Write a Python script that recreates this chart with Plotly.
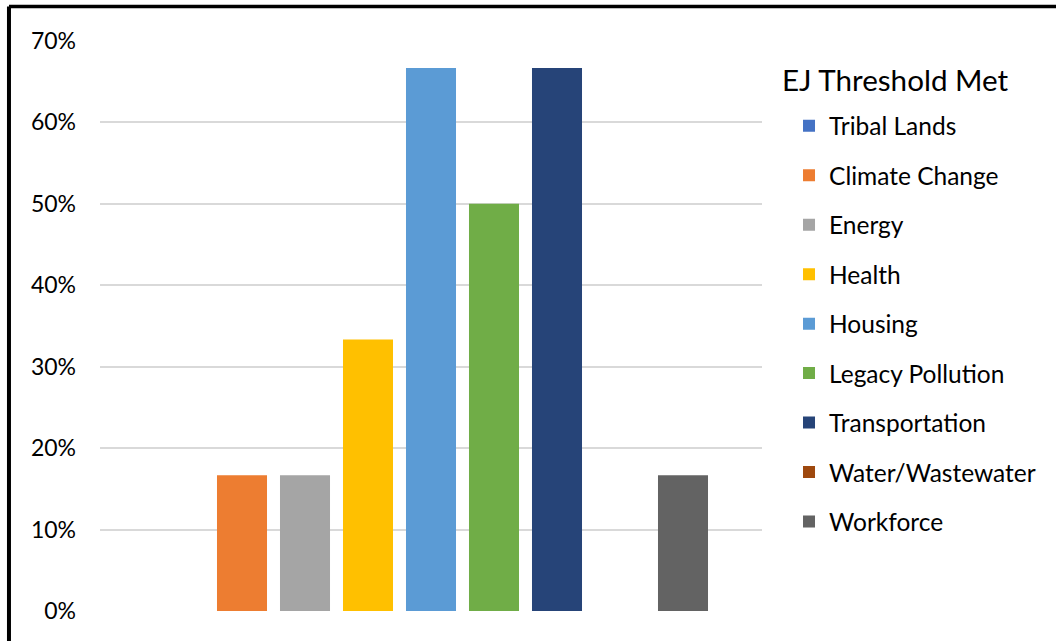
import plotly.graph_objects as go

series = ["Tribal Lands", "Climate Change", "Energy", "Health", "Housing",
          "Legacy Pollution", "Transportation", "Water/Wastewater", "Workforce"]
values = [0.0, 0.1667, 0.1667, 0.3333, 0.6667, 0.50, 0.6667, 0.0, 0.1667]
colors = ["#4472C4", "#ED7D31", "#A5A5A5", "#FFC000", "#5B9BD5",
          "#70AD47", "#264478", "#9E480E", "#636363"]
category = [""]
tick_vals = [0, 0.1, 0.2, 0.3, 0.4, 0.5, 0.6, 0.7]
tick_text = ["0%", "10%", "20%", "30%", "40%", "50%", "60%", "70%"]
legend_title = "EJ Threshold Met"

fig = go.Figure()
for i, (name, v, c) in enumerate(zip(series, values, colors)):
    fig.add_trace(go.Bar(
        x=category, y=[v], name=name, legendgroup=f"g{i}",
        marker=dict(color=c, line=dict(width=0)),
    ))

fig.update_layout(
    width=1056, height=641,
    margin=dict(l=100, r=294, t=41, b=30),
    paper_bgcolor="white", plot_bgcolor="white",
    barmode="group", bargap=0.1435, bargroupgap=0.206,
    font=dict(family="Lato, Open Sans, sans-serif", color="#000000"),
    xaxis=dict(showticklabels=False, showgrid=False, zeroline=False,
               showline=False, ticks=""),
    yaxis=dict(range=[0, 0.7], tickvals=tick_vals, ticktext=tick_text,
               showgrid=True, gridcolor="#d9d9d9", gridwidth=1.5,
               zeroline=False, showline=False, ticks="",
               tickfont=dict(size=23, color="#000000"), ticklabelstandoff=23),
    legend=dict(
        x=1.0408, xanchor="left", y=0.8905, yanchor="top",
        font=dict(size=24.5, color="#000000"),
        traceorder="grouped", tracegroupgap=14.6,
        itemwidth=30, bgcolor="rgba(0,0,0,0)",
    ),
    showlegend=True,
    annotations=[
        dict(text=legend_title, xref="paper", yref="paper",
             x=1.027, y=0.9316, xanchor="left", yanchor="middle",
             showarrow=False, font=dict(size=29.6, color="#000000")),
    ],
    shapes=[
        dict(type="line", xref="paper", yref="paper",
             x0=-0.1375, x1=1.5, y0=1.0606, y1=1.0606,
             line=dict(color="black", width=3.5)),
        dict(type="line", xref="paper", yref="paper",
             x0=-0.1375, x1=-0.1375, y0=1.0606, y1=-0.2,
             line=dict(color="black", width=4)),
    ],
)

fig.write_html("out.html")
